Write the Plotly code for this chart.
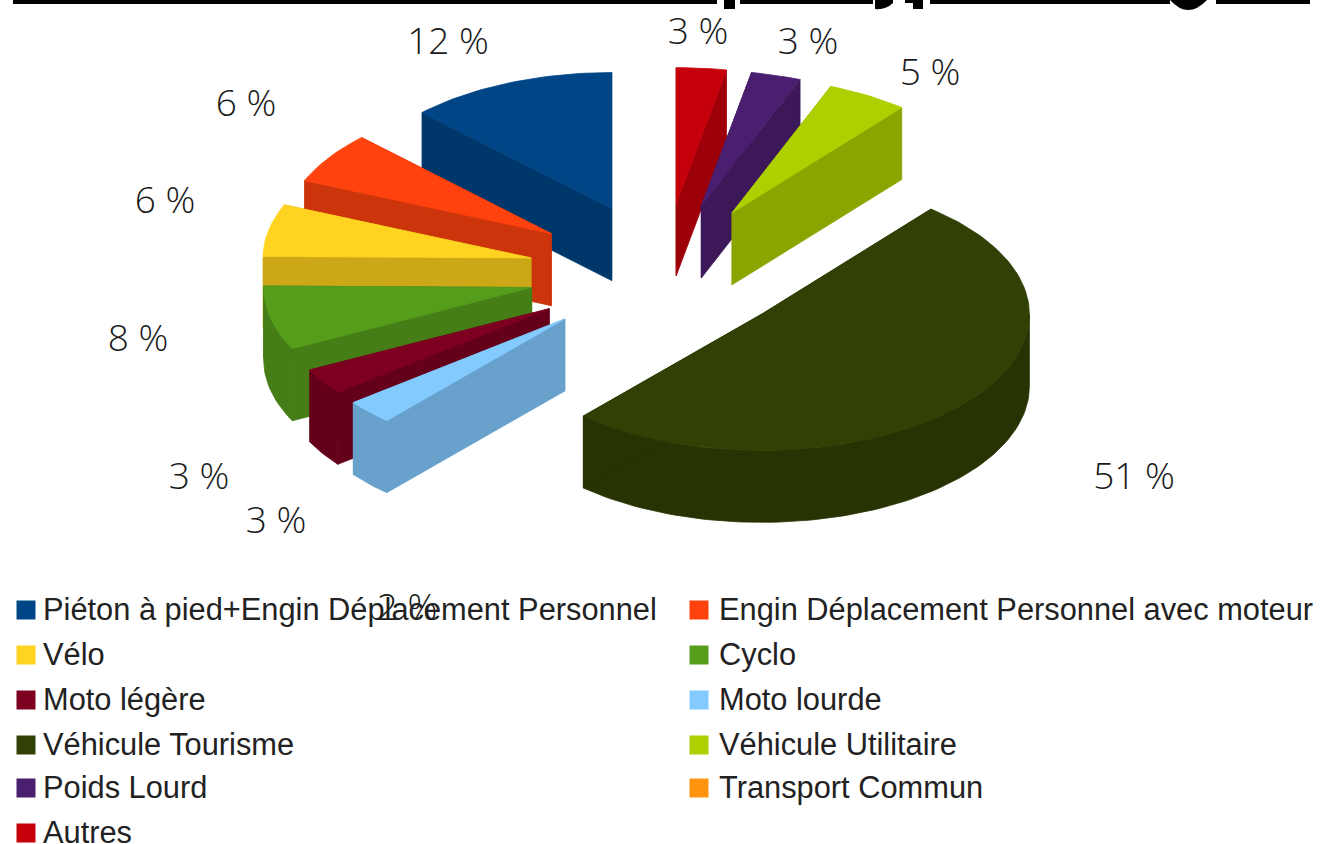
import math
import plotly.graph_objects as go

# ---- data (clockwise from 12 o'clock) ----
categories = ["Autres", "Transport Commun", "Poids Lourd", "Véhicule Utilitaire", "Véhicule Tourisme",
              "Moto lourde", "Moto légère", "Cyclo", "Vélo",
              "Engin Déplacement Personnel avec moteur", "Piéton à pied+Engin Déplacement Personnel"]
values = [3.0, 0.0, 3.0, 4.9, 50.6, 2.9, 3.1, 7.6, 6.2, 6.1, 12.5]
colors = ["#C5000B", "#FF950E", "#4B1F6F", "#AECF00", "#314004",
          "#83CAFF", "#7E0021", "#579D1C", "#FFD320", "#FF420E", "#004586"]
percent_labels = ["3 %", "3 %", "5 %", "51 %", "3 %", "3 %", "8 %", "6 %", "6 %", "12 %", "2 %"]
legend_order = ["Piéton à pied+Engin Déplacement Personnel", "Engin Déplacement Personnel avec moteur",
                "Vélo", "Cyclo", "Moto légère", "Moto lourde",
                "Véhicule Tourisme", "Véhicule Utilitaire", "Poids Lourd", "Transport Commun", "Autres"]

# ---- layout constants ----
W, H = 1321, 844
CX, CY = 663.5, 272    # pie centre
A, B = 268, 136        # ellipse radii
DEPTH = 72             # extrusion height
PULL = 0.505           # explode distance, as a fraction of the radius
PULL_LARGE = 0.48      # explode distance of the largest slice
label_pos = [(698, 35), (808, 45), (930, 76), (1134, 480), (276, 524), (199, 480),
             (138, 342), (165, 204), (246, 107), (448, 45), (407, 611)]
legend_rows = [610, 655, 700, 745, 788, 833]
legend_cols = [(26, 43), (699, 719)]


def darker(hex_color, f=0.8):
    r, g, b = (int(hex_color[i:i + 2], 16) for i in (1, 3, 5))
    return "#%02x%02x%02x" % (int(r * f), int(g * f), int(b * f))


def rim(ax, ay, deg):
    t = math.radians(deg)
    return ax + A * math.sin(t), ay - B * math.cos(t)


def poly(fig, pts, color, name):
    fig.add_trace(go.Scatter(x=[p[0] for p in pts] + [pts[0][0]], y=[p[1] for p in pts] + [pts[0][1]],
                             mode="lines", fill="toself", fillcolor=color,
                             line=dict(color=color, width=0.8), name=name,
                             hoverinfo="name", showlegend=False))


fig = go.Figure()

# build slices from values
total = sum(values)
largest = max(values)
slices, start = [], 0.0
for name, v, c in zip(categories, values, colors):
    span = 360 * v / total
    if v > 0:
        mid = math.radians(start + span / 2)
        p = PULL_LARGE if v == largest else PULL
        ax = CX + p * A * math.sin(mid)
        ay = CY - p * B * math.cos(mid)
        slices.append(dict(name=name, s=start, e=start + span, ax=ax, ay=ay, c=c))
    start += span

for sl in sorted(slices, key=lambda d: d["ay"]):
    ax, ay, s, e, c, n = sl["ax"], sl["ay"], sl["s"], sl["e"], sl["c"], sl["name"]
    dark = darker(c)
    faces = sorted([s, e], key=lambda d: rim(ax, ay, d)[1])
    steps = max(2, int((e - s) / 1.5))
    arc = [s + (e - s) * i / steps for i in range(steps + 1)]

    def face(d):
        x, y = rim(ax, ay, d)
        return [(ax, ay), (x, y), (x, y + DEPTH), (ax, ay + DEPTH)]

    poly(fig, face(faces[0]), dark, n)
    lo, hi = max(s, 90), min(e, 270)
    if hi > lo:
        n_w = max(2, int((hi - lo) / 1.5))
        w = [lo + (hi - lo) * i / n_w for i in range(n_w + 1)]
        up = [rim(ax, ay, d) for d in w]
        poly(fig, up + [(x, y + DEPTH) for x, y in reversed(up)], dark, n)
    poly(fig, face(faces[1]), dark, n)
    poly(fig, [(ax, ay)] + [rim(ax, ay, d) for d in arc], c, n)

# percent labels
fig.add_trace(go.Scatter(x=[p[0] for p in label_pos], y=[p[1] for p in label_pos], text=percent_labels,
                         mode="text", textposition="middle center", hoverinfo="skip", showlegend=False,
                         textfont=dict(family="Open Sans", size=37, color="#1a1a1a", weight=300)))

# legend (two columns, row by row)
color_of = dict(zip(categories, colors))
for i, name in enumerate(legend_order):
    mx, tx = legend_cols[i % 2]
    y = legend_rows[i // 2]
    fig.add_trace(go.Scatter(x=[mx], y=[y], mode="markers", hoverinfo="skip", showlegend=False,
                             marker=dict(symbol="square", size=19, color=color_of[name], line=dict(width=0))))
    fig.add_trace(go.Scatter(x=[tx], y=[y + 2], mode="text", text=[name], textposition="middle right",
                             hoverinfo="skip", showlegend=False,
                             textfont=dict(family="Liberation Sans", size=30.8, color="#222222")))

# clipped heading band at the very top of the picture
band = [(13, 717, 4), (724, 735, 9), (740, 873, 4), (905, 913, 3), (913, 923, 9),
        (930, 1170, 4), (1216, 1310, 4)]
shapes = [dict(type="rect", x0=a, x1=b, y0=-1, y1=h, fillcolor="#000000", line=dict(width=0)) for a, b, h in band]
shapes.append(dict(type="path", path="M 875 0 L 893 0 L 893 3 Q 886 10 875 9 Z", fillcolor="#000000", line=dict(width=0)))
shapes.append(dict(type="path", path="M 1170 0 Q 1188 20 1207 0 Z", fillcolor="#000000", line=dict(width=0)))

fig.update_layout(
    width=W, height=H, autosize=False, margin=dict(l=0, r=0, t=0, b=0),
    paper_bgcolor="#ffffff", plot_bgcolor="#ffffff", showlegend=False, shapes=shapes,
    xaxis=dict(range=[0, W], visible=False, fixedrange=True),
    yaxis=dict(range=[H, 0], visible=False, fixedrange=True),
)
fig.write_html("out.html", config={"displayModeBar": False},
               post_script="document.body.style.margin='0';document.documentElement.style.overflow='hidden';")
